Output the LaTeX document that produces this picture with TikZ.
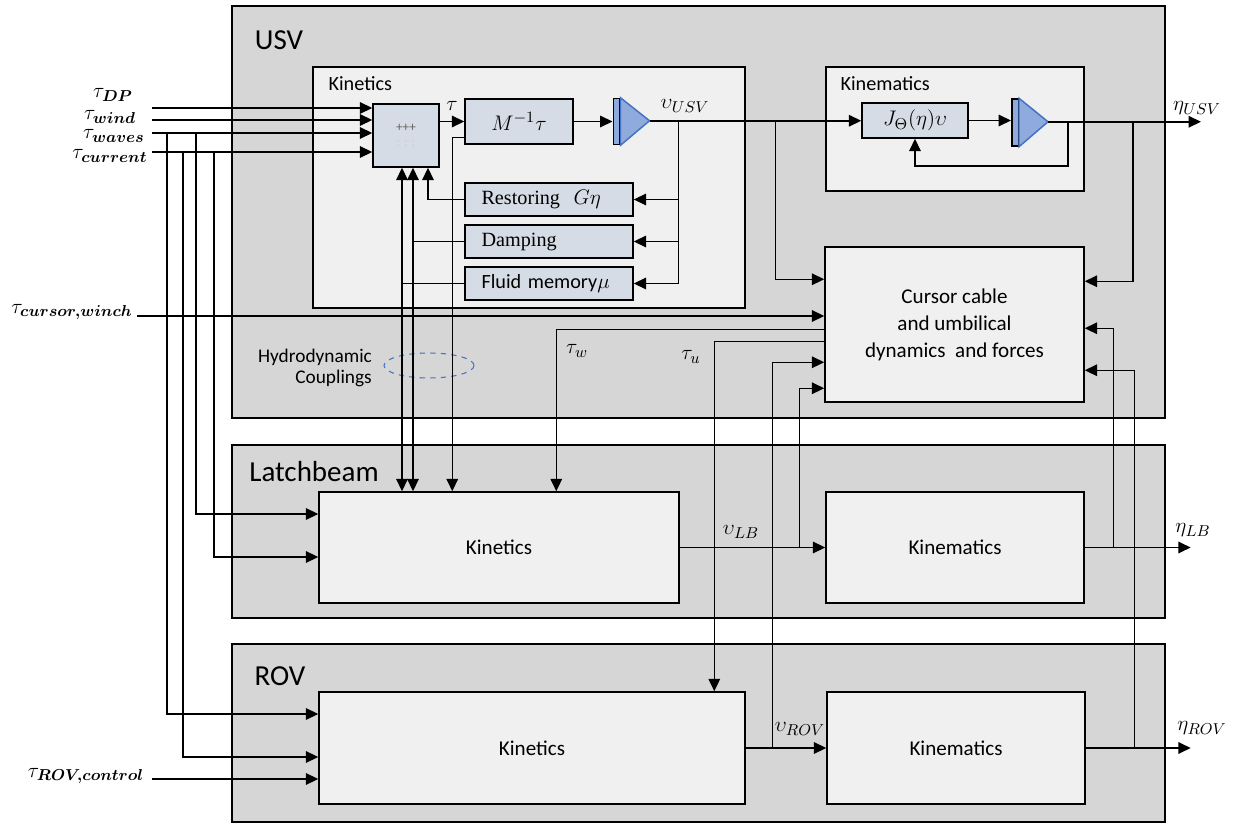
\documentclass[tikz,border=0pt]{standalone}
\usepackage{amsmath}
\usepackage{fontspec}
\setmainfont{Carlito}
\newfontfamily\cambriafont{Liberation Serif}
\usetikzlibrary{arrows.meta,calc,shapes.geometric}

\definecolor{outerfill}{HTML}{D6D6D6}
\definecolor{innerfill}{HTML}{F0F0F0}
\definecolor{blockfill}{HTML}{D6DCE5}
\definecolor{intfill}{HTML}{8FAADC}
\definecolor{intline}{HTML}{4472C4}

\begin{document}
\begin{tikzpicture}[
    x=0.02cm, y=-0.02cm,
    line width=0.85pt,
    >={Triangle[length=7pt,width=6.5pt]},
    arr/.style={->},
    group/.style={
        draw,
        fill=outerfill,
        inner sep=0pt,
        minimum width=18.66cm
    },
    grouplabel/.style={font=\fontsize{16.5}{18}\selectfont},
    sub/.style={
        draw,
        fill=innerfill,
        inner sep=0pt,
        align=center,
        font=\fontsize{12}{15.4}\selectfont
    },
    blk/.style={
        draw,
        fill=blockfill,
        inner sep=0pt,
        font=\cambriafont\fontsize{11.5}{13}\selectfont
    },
    fb/.style={
        blk,
        minimum width=3.36cm,
        minimum height=0.66cm,
        text width=2.7cm,
        align=left
    },
    intbar/.style={
        draw,
        fill=intfill,
        inner sep=0pt,
        minimum width=0.13cm
    },
    tri/.style={fill=intfill, draw=intline},
    sig/.style={font=\fontsize{13}{15}\selectfont, inner sep=1pt}
]

\fill[white] (0,0) rectangle (1242,824);
\useasboundingbox (0,0) rectangle (1242,824);

% Subsystems
\node[group, minimum height=8.24cm] (usv) at (698.5,212) {};
\node[grouplabel] (usvlab) at (279,40) {USV};
\node[group, minimum height=3.46cm] (lb) at (698.5,531.5) {};
\node[grouplabel] (lblab) at (314,472) {Latchbeam};
\node[group, minimum height=3.56cm] (rov) at (698.5,733) {};
\node[grouplabel] (rovlab) at (280,676) {ROV};

% USV
\node[sub, minimum width=8.64cm, minimum height=4.82cm] (usvkin) at (529,187.5) {};
\node[anchor=west, font=\fontsize{11.5}{13}\selectfont] (usvkinlab) at (322,84) {Kinetics};
\node[sub, minimum width=5.16cm, minimum height=2.48cm] (usvkinem) at (955,129) {};
\node[anchor=west, font=\fontsize{11.5}{13}\selectfont] (usvkinemlab) at (834,84) {Kinematics};
\node[sub, minimum width=5.18cm, minimum height=3.1cm] (cursor) at (954.5,324.5) {Cursor cable\\and umbilical\\dynamics~ and forces};

\node[blk, minimum width=1.32cm, minimum height=1.26cm, font=\fontsize{7.5}{8}\selectfont, align=center, text=gray!80!black] (sum) at (406,135.5) {+++\\[1pt]{\color{gray!40}: : :}};
\node[blk, minimum width=2.16cm, minimum height=0.9cm, font=\fontsize{13}{15}\selectfont] (minv) at (519,121.5) {$M^{-1}\tau$};
\node[intbar, minimum height=0.92cm] (int1) at (616.5,121.5) {};
\filldraw[tri] (int1.north east) -- ++(29,23) coordinate (int1out) -- (int1.south east) -- cycle;

\node[fb] (restoring) at (549,199.5) {Restoring~~$G\eta$};
\node[fb] (damping) at (549,241.5) {Damping};
\node[fb] (fluid) at (549,283.5) {{\normalfont Fluid memory}$\mu$};

\node[blk, minimum width=2.12cm, minimum height=0.7cm, font=\fontsize{13}{15}\selectfont] (jbox) at (915,120.5) {$J_{\Theta}(\eta)\upsilon$};
\node[intbar, minimum height=0.94cm] (int2) at (1015,122.5) {};
\filldraw[tri] (int2.north east) -- ++(29,23.5) coordinate (int2out) -- (int2.south east) -- cycle;

\node[align=right, font=\fontsize{11}{11.5}\selectfont] (hydrolab) at (315,368) {Hydrodynamic\\Couplings};
\node[draw=intline, dashed, line width=0.6pt, ellipse, minimum width=1.8cm, minimum height=0.5cm] (hydro) at (429,365.5) {};

% Latchbeam
\node[sub, minimum width=7.2cm, minimum height=2.22cm] (lbkin) at (499,547.5) {Kinetics};
\node[sub, minimum width=5.16cm, minimum height=2.22cm] (lbkinem) at (955,547.5) {Kinematics};

% ROV
\node[sub, minimum width=8.52cm, minimum height=2.24cm] (rovkin) at (532,748) {Kinetics};
\node[sub, minimum width=5.16cm, minimum height=2.24cm] (rovkinem) at (956,748) {Kinematics};

% Signal labels
\node[sig] (ldp) at (113,95) {$\tau_{\boldsymbol{DP}}$};
\node[sig] (lwind) at (110,117) {$\tau_{\boldsymbol{wind}}$};
\node[sig] (lwaves) at (114,136) {$\tau_{\boldsymbol{waves}}$};
\node[sig] (lcur) at (110,156) {$\tau_{\boldsymbol{current}}$};
\node[sig] (lcw) at (72,312) {$\tau_{\boldsymbol{cursor,winch}}$};
\node[sig] (lrovc) at (86,776) {$\tau_{\boldsymbol{ROV,control}}$};
\node[sig] (ltau) at (452,106) {$\tau$};
\node[sig] (lvusv) at (685,106) {$\upsilon_{USV}$};
\node[sig] (letausv) at (1197,108) {$\eta_{USV}$};
\node[sig] (ltw) at (577,351) {$\tau_w$};
\node[sig] (ltu) at (691,357) {$\tau_u$};
\node[sig] (lvlb) at (741,532) {$\upsilon_{LB}$};
\node[sig] (letalb) at (1193,530) {$\eta_{LB}$};
\node[sig] (lvrov) at (800,729) {$\upsilon_{ROV}$};
\node[sig] (letarov) at (1202,728) {$\eta_{ROV}$};

% Environmental forces
\coordinate (tdp) at (152,108);
\coordinate (twind) at (152,120);
\coordinate (twaves) at (152,133);
\coordinate (tcur) at (152,152);
\coordinate (tcw) at (137,316);
\coordinate (trovc) at (152,779);
\coordinate (wvA) at (167,133);
\coordinate (wvB) at (196,133);
\coordinate (cuA) at (183,152);
\coordinate (cuB) at (214,152);

\draw[arr] (tdp) -- (tdp -| sum.west);
\draw[arr] (twind) -- (twind -| sum.west);
\draw[arr] (twaves) -- (twaves -| sum.west);
\draw[arr] (tcur) -- (tcur -| sum.west);
\draw[arr] (wvA) |- ($(rovkin.west)+(0,-34)$);
\draw[arr] (cuA) |- ($(rovkin.west)+(0,9)$);
\draw[arr] (wvB) |- ($(lbkin.west)+(0,-33.5)$);
\draw[arr] (cuB) |- ($(lbkin.west)+(0,9.5)$);
\draw[arr] (trovc) -- (trovc -| rovkin.west);
\draw[arr] (tcw) -- (tcw -| cursor.west);

% USV kinetics loop
\draw[arr] (sum.east |- minv.west) -- (minv.west);
\draw[arr] (minv.east) -- (int1.west);
\draw[arr] (int1out) -- (int1out -| jbox.west);
\coordinate (vA) at ($(int1out)+(29,0)$);
\coordinate (vB) at ($(int1out)+(126,0)$);
\draw[arr] (vA) |- (fluid.east);
\draw[arr] (vA |- restoring.east) -- (restoring.east);
\draw[arr] (vA |- damping.east) -- (damping.east);
\draw[arr] (vB) |- ($(cursor.north west)+(0,33)$);

% feedback and hydrodynamic couplings
\coordinate (hA) at ($(sum.south)+(-4,0)$);
\coordinate (hB) at ($(sum.south)+(7,0)$);
\coordinate (hC) at ($(sum.south)+(22,0)$);
\draw[arr] (fluid.west) -| (hA);
\draw[arr] (fluid.west -| hA) -- (hA |- lbkin.north);
\draw[arr] (damping.west) -| (hB);
\draw[arr] (damping.west -| hB) -- (hB |- lbkin.north);
\draw[arr] (restoring.west) -| (hC);
\draw[arr] ($(minv.south west)+(0,-7)$) -- ++(-12,0) coordinate (mA) -- (mA |- lbkin.north);

% USV kinematics
\draw[arr] (jbox.east) -- (jbox.east -| int2.west);
\draw[arr] (int2out) -- ++(153,0) coordinate (etausv);
\draw[arr] ($(int2out)+(20,0)$) -- ++(0,44) -| (jbox.south);
\draw[arr] ($(int2out)+(85,0)$) |- ($(cursor.north east)+(0,35)$);

% cable and umbilical
\draw[arr] ($(cursor.north west)+(0,83)$) -| ($(lbkin.north west)+(238,0)$);
\draw[arr] ($(cursor.north west)+(0,95)$) -| ($(rovkin.north west)+(396,0)$);
\draw[arr] ($(rovkin.east)+(27,0)$) |- ($(cursor.north west)+(0,116)$);
\draw[arr] ($(lbkin.east)+(120,0)$) |- ($(cursor.north west)+(0,142)$);
\draw[arr] ($(lbkinem.east)+(29,0)$) |- ($(cursor.north east)+(0,82)$);
\draw[arr] ($(rovkinem.east)+(49,0)$) |- ($(cursor.north east)+(0,124)$);

% Latchbeam and ROV outputs
\draw[arr] (lbkin.east) -- (lbkinem.west);
\draw[arr] (lbkinem.east) -- ++(106,0) coordinate (etalb);
\draw[arr] (rovkin.east) -- (rovkinem.west);
\draw[arr] (rovkinem.east) -- ++(105,0) coordinate (etarov);

\end{tikzpicture}
\end{document}
